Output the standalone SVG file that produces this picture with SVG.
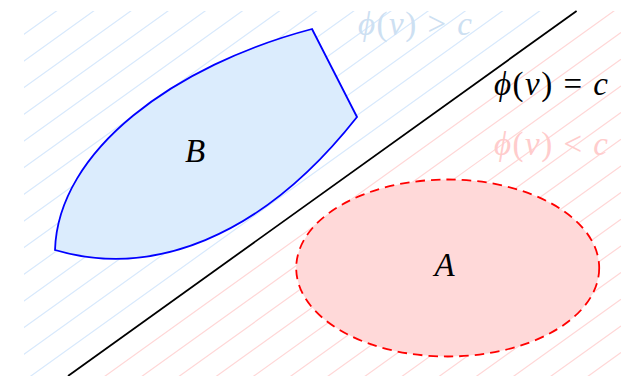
<svg xmlns="http://www.w3.org/2000/svg" width="621" height="376" viewBox="0 0 621 376">
<style>
.hb{stroke:#d8e9fc;stroke-width:1.2;fill:none}
.hr{stroke:#ffd7d7;stroke-width:1.2;fill:none}
.math{font-family:"Liberation Serif","DejaVu Serif",serif;font-size:33px}
.it{font-style:italic}
</style>
<defs>
<clipPath id="hclip"><rect x="24" y="11" width="597" height="365"/></clipPath>
</defs>
<rect width="621" height="376" fill="#ffffff"/>
<g id="hatch" clip-path="url(#hclip)">
<path class="hb" d="M0 51.5L621 -394.1M0 78.17L621 -367.43M0 104.83L621 -340.77M0 131.5L621 -314.1M0 158.17L621 -287.43M0 184.83L621 -260.77M0 211.5L621 -234.1M0 238.17L621 -207.43M0 264.83L621 -180.77M0 291.5L621 -154.1M0 318.17L621 -127.43M0 344.83L621 -100.77M0 371.5L621 -74.1M0 398.17L621 -47.43"/>
<path class="hr" d="M0 451.5L621 5.9M0 478.17L621 32.57M0 504.83L621 59.23M0 531.5L621 85.9M0 558.17L621 112.57M0 584.83L621 139.23M0 611.5L621 165.9M0 638.17L621 192.57M0 664.83L621 219.23M0 691.5L621 245.9M0 718.17L621 272.57M0 744.83L621 299.23M0 771.5L621 325.9M0 798.17L621 352.57"/>
</g>
<g id="labels-regions">
<text class="math" x="358" y="35" fill="#cde0f2" textLength="114" lengthAdjust="spacing"><tspan class="it">ϕ</tspan>(<tspan class="it">v</tspan>) &gt; <tspan class="it">c</tspan></text>
<text class="math" x="494" y="155" fill="#ffcccc" textLength="114" lengthAdjust="spacing"><tspan class="it">ϕ</tspan>(<tspan class="it">v</tspan>) &lt; <tspan class="it">c</tspan></text>
</g>
<g id="connectors">
<path id="boundary" d="M68 376L576.6 11" stroke="#000" stroke-width="1.8" fill="none"/>
</g>
<g id="boundary-label">
<text class="math" x="494" y="95" fill="#000" textLength="114" lengthAdjust="spacing"><tspan class="it">ϕ</tspan>(<tspan class="it">v</tspan>) = <tspan class="it">c</tspan></text>
</g>
<g id="B">
<path d="M312 29L357 117C260 240 150 278 55 250C58 150 175 65 312 29Z" fill="#dbecfd" stroke="#0000ff" stroke-width="1.8" stroke-linejoin="miter"/>
<text class="math it" x="195" y="162" text-anchor="middle" fill="#000">B</text>
</g>
<g id="A">
<ellipse cx="447.7" cy="268" rx="151.5" ry="88.5" fill="#ffd9d9" stroke="#ff0000" stroke-width="1.8" stroke-dasharray="9.5 6"/>
<text class="math it" x="444.5" y="276" text-anchor="middle" fill="#000">A</text>
</g>
</svg>
